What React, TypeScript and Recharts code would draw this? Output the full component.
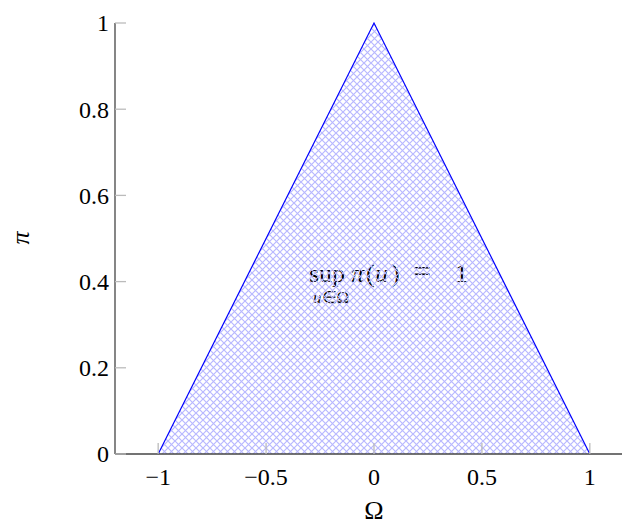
import React from 'react';
import { ComposedChart, Area, XAxis, YAxis, Customized } from 'recharts';

const xValues = [-1, 0, 1];
const piValues = [0, 1, 0];
const xTicks = [-1, -0.5, 0, 0.5, 1];
const yTicks = [0, 0.2, 0.4, 0.6, 0.8, 1];
const xDomain = [-1.2, 1.2];
const yDomain = [0, 1];

const data = xValues.map((x, i) => ({ x, y: piValues[i] }));
const fmt = (v: number) => (v < 0 ? '\u2212' + Math.abs(v) : String(v));
const FONT = '"Liberation Serif", serif';
const TICK_LEN = 11;
const TICK_COLOR = '#bbb';
const FS = 24;

const BottomTick = (props: any) => {
  const { x, y, payload } = props;
  const axisY = y - 14;
  return (
    <g>
      <line x1={x} x2={x} y1={axisY} y2={axisY - TICK_LEN} stroke={TICK_COLOR} strokeWidth={1.3} />
      <text x={x} y={y} dy="0.71em" textAnchor="middle" fontSize={FS} fontFamily={FONT} fill="#000">
        {fmt(payload.value)}
      </text>
    </g>
  );
};

const TopTick = (props: any) => {
  const { x, y } = props;
  return <line x1={x} x2={x} y1={y} y2={y + TICK_LEN} stroke={TICK_COLOR} strokeWidth={1.3} />;
};

const LeftTick = (props: any) => {
  const { x, y, payload } = props;
  const axisX = x + 6;
  return (
    <g>
      <line x1={axisX} x2={axisX + TICK_LEN} y1={y} y2={y} stroke={TICK_COLOR} strokeWidth={1.3} />
      <text x={x} y={y} dy="0.35em" textAnchor="end" fontSize={FS} fontFamily={FONT} fill="#000">
        {fmt(payload.value)}
      </text>
    </g>
  );
};

const Overlay = () => (
  <g fontFamily={FONT} fill="#000">
    <text x={374} y={519} fontSize={26} textAnchor="middle">Ω</text>
    <text x={0} y={0} fontSize={26} fontStyle="italic" textAnchor="middle" transform="translate(29,238) rotate(-90)">π</text>
    <text y={282} fontSize={26}>
      <tspan x={309}>sup</tspan>
      <tspan x={351} fontStyle="italic">π</tspan>
      <tspan x={366}>(</tspan>
      <tspan x={375} fontStyle="italic">u</tspan>
      <tspan x={391}>)</tspan>
      <tspan x={413} fontSize={32}>=</tspan>
      <tspan x={455}>1</tspan>
    </text>
    <text x={313} y={303} fontSize={17}>
      <tspan fontStyle="italic">u</tspan>∈Ω
    </text>
  </g>
);

export default function App() {
  return (
    <div style={{ position: 'absolute', left: 0, top: 0, width: 622, height: 524, overflow: 'hidden', background: '#fff' }}>
      <ComposedChart width={640} height={524} data={data} margin={{ top: 23, right: 7, bottom: 0, left: 0 }}>
        <defs>
          <pattern id="hatch" patternUnits="userSpaceOnUse" width={7} height={7}>
            <path d="M0,0 L7,7 M7,0 L0,7" stroke="#b8b8ff" strokeWidth={1.2} />
          </pattern>
        </defs>
        <XAxis
          dataKey="x"
          type="number"
          domain={xDomain}
          ticks={xTicks}
          height={70}
          tickSize={0}
          tickMargin={14}
          axisLine={{ stroke: '#444', strokeWidth: 1.3 }}
          tickLine={false}
          tick={BottomTick}
          interval={0}
          allowDataOverflow
        />
        <XAxis
          xAxisId="top"
          orientation="top"
          dataKey="x"
          type="number"
          domain={xDomain}
          ticks={xTicks}
          height={0}
          tickSize={0}
          tickMargin={0}
          axisLine={{ stroke: '#000', strokeWidth: 1.3 }}
          tickLine={false}
          tick={TopTick}
          interval={0}
          allowDataOverflow
        />
        <YAxis
          type="number"
          domain={yDomain}
          ticks={yTicks}
          width={115}
          tickSize={0}
          tickMargin={6}
          axisLine={{ stroke: '#444', strokeWidth: 1.3 }}
          tickLine={false}
          tick={LeftTick}
          interval={0}
        />
        <Area
          type="linear"
          dataKey="y"
          stroke="#0000ff"
          strokeWidth={1.2}
          fill="url(#hatch)"
          fillOpacity={1}
          isAnimationActive={false}
          dot={false}
          activeDot={false}
        />
        <Customized component={Overlay} />
      </ComposedChart>
    </div>
  );
}
